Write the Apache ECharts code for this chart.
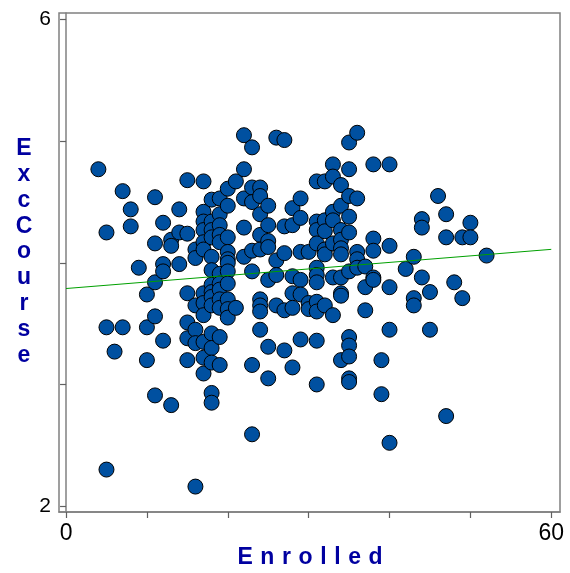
<!DOCTYPE html>
<html>
<head>
<meta charset="UTF-8">
<title>ExcCourse vs Enrolled</title>
<script src="https://cdn.jsdelivr.net/npm/echarts@6/dist/echarts.min.js"></script>
<style>
  html, body { margin: 0; padding: 0; background: #fff; }
  #container { width: 570px; height: 573px; }
</style>
</head>
<body>
<div id="container"></div>
<script type="text/javascript">
// x values (Enrolled), one per point
var enrolled = [
  4,
  5, 5, 5,
  6,
  7, 7,
  8, 8,
  9,
  10, 10, 10,
  11, 11, 11, 11, 11,
  12, 12, 12, 12,
  13, 13, 13,
  14, 14, 14,
  15, 15, 15, 15, 15, 15,
  16, 16, 16, 16, 16, 16,
  17, 17, 17, 17, 17, 17, 17, 17, 17, 17, 17, 17,
  18, 18, 18, 18, 18, 18, 18, 18, 18, 18, 18, 18, 18, 18, 18,
  19, 19, 19, 19, 19, 19, 19, 19, 19, 19, 19, 19,
  20, 20, 20, 20, 20, 20, 20, 20, 20, 20, 20,
  21, 21,
  22, 22, 22, 22, 22,
  23, 23, 23, 23, 23, 23, 23,
  24, 24, 24, 24, 24, 24, 24, 24, 24,
  25, 25, 25, 25, 25, 25, 25,
  26, 26, 26, 26,
  27, 27, 27, 27, 27,
  28, 28, 28, 28, 28, 28,
  29, 29, 29, 29, 29, 29,
  30, 30, 30,
  31, 31, 31, 31, 31, 31, 31, 31, 31, 31, 31,
  32, 32, 32, 32, 32, 32,
  33, 33, 33, 33, 33, 33, 33,
  34, 34, 34, 34, 34, 34, 34, 34, 34, 34,
  35, 35, 35, 35, 35, 35, 35, 35, 35, 35, 35,
  36, 36, 36, 36, 36,
  37, 37, 37,
  38, 38, 38, 38, 38,
  39, 39,
  40, 40, 40, 40, 40,
  42,
  43, 43, 43,
  44, 44, 44,
  45, 45,
  46,
  47, 47, 47,
  48,
  49, 49,
  50, 50,
  52
];

// y values (ExcCourse), same order as enrolled
var excCourse = [
  4.77,
  4.25, 3.47, 2.30,
  3.27,
  4.59, 3.47,
  4.44, 4.30,
  3.96,
  3.74, 3.47, 3.20,
  4.54, 4.16, 3.84, 3.56, 2.91,
  4.33, 3.99, 3.93, 3.36,
  4.19, 4.14, 2.83,
  4.44, 4.25, 3.99,
  4.68, 4.24, 3.75, 3.51, 3.38, 3.20,
  4.11, 4.04, 3.65, 3.45, 3.34, 2.16,
  4.67, 4.42, 4.34, 4.27, 4.17, 4.11, 3.75, 3.67, 3.57, 3.35, 3.22, 3.09,
  4.52, 4.34, 4.27, 4.21, 4.05, 3.94, 3.82, 3.76, 3.72, 3.65, 3.42, 3.30, 3.18, 2.93, 2.85,
  4.53, 4.40, 4.31, 4.23, 4.17, 3.91, 3.83, 3.78, 3.70, 3.63, 3.39, 3.16,
  4.61, 4.47, 4.21, 4.09, 4.03, 4.00, 3.93, 3.83, 3.70, 3.62, 3.55,
  4.67, 3.63,
  5.05, 4.77, 4.53, 4.29, 4.05,
  4.95, 4.62, 4.50, 4.10, 3.93, 3.16, 2.59,
  4.62, 4.55, 4.40, 4.23, 4.11, 3.70, 3.65, 3.60, 3.45,
  4.47, 4.31, 4.18, 4.13, 3.86, 3.31, 3.05,
  5.03, 4.02, 3.90, 3.65,
  5.01, 4.30, 4.08, 3.61, 3.28,
  4.45, 4.31, 3.89, 3.75, 3.63, 3.14,
  4.53, 4.37, 4.09, 3.86, 3.74, 3.37,
  4.09, 3.67, 3.62,
  4.67, 4.34, 4.27, 4.16, 3.96, 3.90, 3.84, 3.68, 3.60, 3.36, 3.00,
  4.67, 4.35, 4.26, 4.11, 4.07, 3.65,
  4.81, 4.71, 4.42, 4.35, 4.16, 3.88, 3.57,
  4.64, 4.47, 4.27, 4.19, 4.12, 4.07, 3.88, 3.75, 3.73, 3.20,
  4.99, 4.77, 4.55, 4.38, 4.25, 3.93, 3.39, 3.32, 3.23, 3.05, 3.02,
  5.07, 4.53, 4.09, 4.03, 3.96,
  3.97, 3.80, 3.61,
  4.81, 4.20, 4.10, 3.88, 3.86,
  3.20, 2.92,
  4.81, 4.14, 3.80, 3.45, 2.52,
  3.95,
  4.05, 3.71, 3.65,
  4.36, 4.29, 3.88,
  3.76, 3.45,
  4.55,
  4.40, 4.21, 2.74,
  3.84,
  4.21, 3.71,
  4.33, 4.21,
  4.06
];

var xTicks = [0, 10, 20, 30, 40, 50, 60];
var xTickLabels = [0, 60];
var yTicks = [2, 3, 4, 5, 6];
var yTickLabels = [2, 6];

// fitted line
var fitIntercept = 3.789;
var fitSlope = 0.00537;
var fitRange = [0, 60];

var points = [];
for (var i = 0; i < enrolled.length; i++) {
  points.push([enrolled[i], excCourse[i]]);
}
var fitLine = fitRange.map(function (x) { return [x, fitIntercept + fitSlope * x]; });

var font = '"Liberation Sans", Arial, sans-serif';
var titleColor = '#0000a0';
var frameColor = '#808080';

// spaced-out x title: each letter is its own rich fragment with side padding
var xTitle = 'Enrolled'.split('').map(function (c) { return '{s|' + c + '}'; }).join('');

var dom = document.getElementById('container');
var myChart = echarts.init(dom);

var option = {
  backgroundColor: '#ffffff',
  animation: false,
  grid: {
    left: 59, right: 10, top: 13, bottom: 61,
    show: true,
    borderColor: frameColor,
    borderWidth: 1.5
  },
  xAxis: {
    type: 'value',
    min: -0.87, max: 61.08,
    axisLine: { show: true, lineStyle: { color: frameColor, width: 1.5 } },
    axisTick: { show: true, customValues: xTicks, length: 6, lineStyle: { color: '#606060', width: 1.2 } },
    axisLabel: { show: true, customValues: xTickLabels, margin: 10, color: '#000', fontSize: 23, fontFamily: font },
    splitLine: { show: false }
  },
  yAxis: {
    type: 'value',
    min: 1.951, max: 6.055,
    axisLine: { show: true, lineStyle: { color: frameColor, width: 1.5 } },
    axisTick: { show: true, customValues: yTicks, length: 6, lineStyle: { color: '#606060', width: 1.2 } },
    axisLabel: { show: true, customValues: yTickLabels, margin: 8, color: '#000', fontSize: 21, fontFamily: font },
    splitLine: { show: false }
  },
  graphic: [
    {
      type: 'text',
      x: 310, y: 558,
      style: {
        text: xTitle,
        align: 'center', verticalAlign: 'middle',
        rich: {
          s: {
            fontSize: 23, fontWeight: 'bold', fontFamily: font,
            fill: titleColor, color: titleColor,
            padding: [0, 3.8, 0, 3.8]
          }
        }
      }
    },
    {
      type: 'text',
      x: 24, y: 252,
      style: {
        text: 'E\nx\nc\nC\no\nu\nr\ns\ne',
        fontSize: 23, fontWeight: 'bold', fontFamily: font,
        lineHeight: 25.8,
        align: 'center', verticalAlign: 'middle',
        fill: titleColor
      }
    }
  ],
  series: [
    {
      name: 'ExcCourse',
      type: 'scatter',
      data: points,
      symbol: 'circle',
      symbolSize: 15,
      itemStyle: { color: '#0050a0', borderColor: '#000000', borderWidth: 1, opacity: 1 },
      z: 2
    },
    {
      name: 'fit',
      type: 'line',
      data: fitLine,
      showSymbol: false,
      lineStyle: { color: '#00a000', width: 1 },
      z: 3
    }
  ]
};

myChart.setOption(option, true);
</script>
</body>
</html>
